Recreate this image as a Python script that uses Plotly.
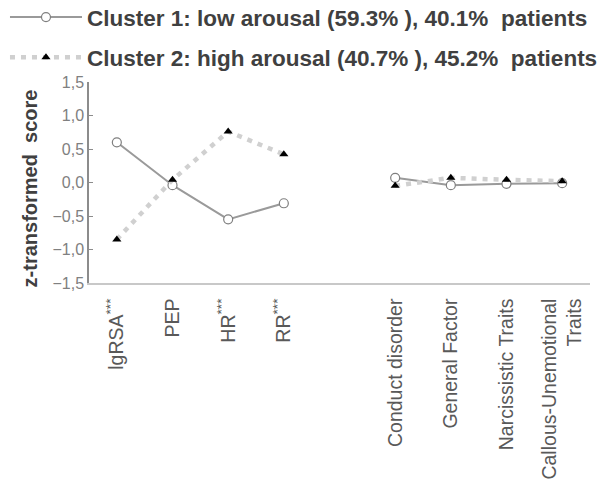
import plotly.graph_objects as go

SUP = "<sup>***</sup>"
categories = ["lgRSA" + SUP, "PEP", "HR" + SUP, "RR" + SUP, "",
              "Conduct disorder", "General Factor", "Narcissistic Traits",
              "Callous-Unemotional<br>Traits"]
cluster1 = [0.60, -0.04, -0.55, -0.31, None, 0.07, -0.04, -0.02, -0.01]
cluster2 = [-0.85, 0.04, 0.76, 0.42, None, -0.05, 0.07, 0.04, 0.02]
name1 = "Cluster 1: low arousal (59.3%\u00a0), 40.1%\u00a0\u00a0patients"
name2 = "Cluster 2: high arousal (40.7%\u00a0), 45.2%\u00a0\u00a0patients"
ytitle = "z-transformed\u00a0\u00a0score"
yticks = [-1.5, -1.0, -0.5, 0.0, 0.5, 1.0, 1.5]

xs = list(range(len(categories)))

fig = go.Figure()
fig.add_trace(go.Scatter(
    x=xs, y=cluster1, name=name1, mode="lines+markers", connectgaps=False,
    line=dict(color="#9a9a9a", width=2),
    marker=dict(symbol="circle", size=9, color="white", line=dict(color="#7f7f7f", width=1.2)),
    legendgroup="a",
))
fig.add_trace(go.Scatter(
    x=xs, y=cluster2, name=name2, mode="lines+markers", connectgaps=False,
    line=dict(color="#d0d0d0", width=4.5, dash="5px,6px"),
    marker=dict(symbol="triangle-up", size=8, color="black"),
    legendgroup="b",
))

fig.add_annotation(
    text=ytitle, textangle=-90, xref="paper", yref="paper",
    x=-0.118, y=0.47, xanchor="center", yanchor="middle", showarrow=False,
    font=dict(size=20, color="#404040", weight="bold"),
)

fig.update_layout(
    width=610, height=492,
    margin=dict(l=89, r=20, t=82, b=209, autoexpand=False),
    paper_bgcolor="white", plot_bgcolor="white",
    separators=",.",
    font=dict(family="Liberation Sans, Arial, sans-serif", color="#595959"),
    showlegend=True,
    legend=dict(
        xref="paper", yref="paper", x=-0.1677, y=1.428,
        xanchor="left", yanchor="top",
        font=dict(size=22.5, color="#404040", family="Liberation Sans, Arial, sans-serif", weight="bold"),
        itemwidth=72, tracegroupgap=8, traceorder="grouped",
        bgcolor="rgba(0,0,0,0)",
    ),
    xaxis=dict(
        range=[-0.5, len(categories) - 0.5],
        tickmode="array", tickvals=xs, ticktext=categories,
        tickangle=-90, showgrid=False, zeroline=False,
        showline=True, linecolor="#c8c8c8", linewidth=1.5,
        ticks="", tickfont=dict(size=19.5, color="#595959"),
        ticklabelstandoff=6,
        fixedrange=True,
    ),
    yaxis=dict(
        range=[-1.5, 1.5], tickmode="array", tickvals=yticks,
        tickformat=".1f", showgrid=False, zeroline=False,
        showline=True, linecolor="#8c8c8c", linewidth=1.5,
        ticks="inside", ticklen=4, tickcolor="#8c8c8c",
        tickfont=dict(size=16, color="#808080"),
        ticksuffix="\u2005",
    ),
)

fig.write_html("out.html")
